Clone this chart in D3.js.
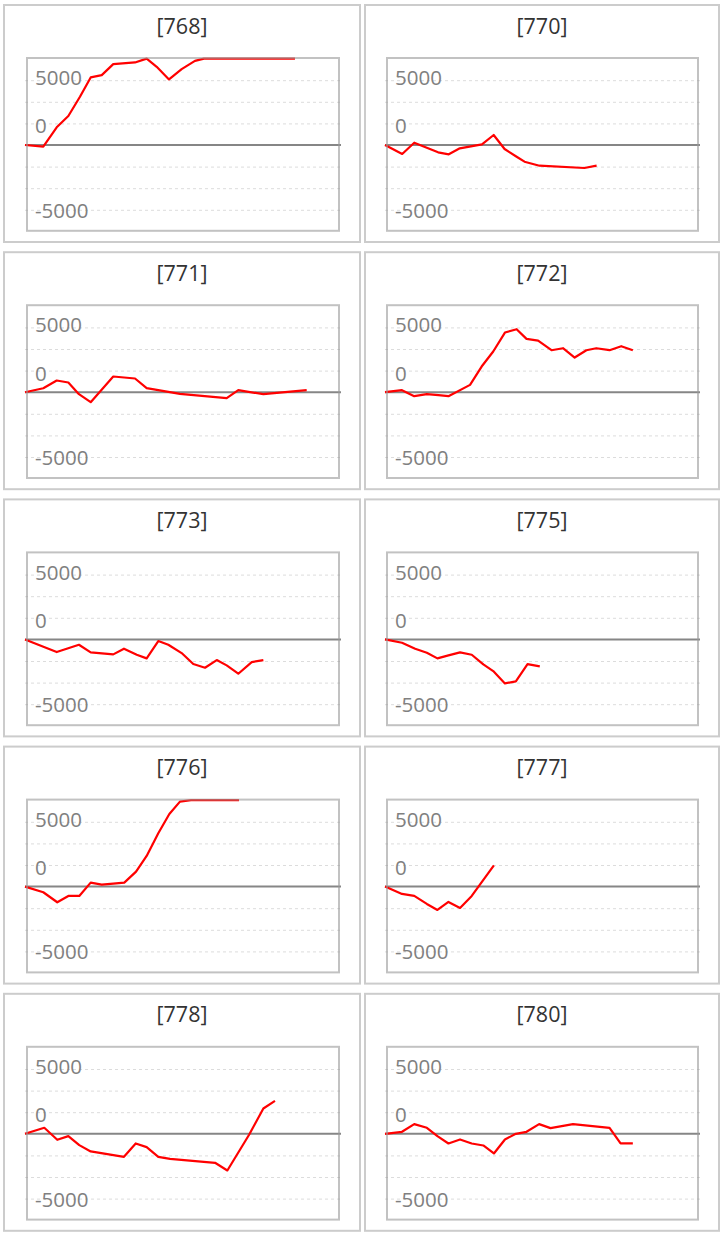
<!DOCTYPE html>
<html>
<head>
<meta charset="utf-8">
<script src="https://cdn.jsdelivr.net/npm/d3@7"></script>
<style>
  html, body { margin: 0; padding: 0; background: #fff; }
  svg { display: block; }
</style>
</head>
<body>
<div id="chart"></div>
<script>
// ---------------- data ----------------
const titles = ["[768]", "[770]", "[771]", "[772]", "[773]", "[775]", "[776]", "[777]", "[778]", "[780]"];

// x = trading-day position, y = cumulative value
const days768 = [0, 1.62, 2.81, 3.84, 4.87, 5.82, 6.80, 7.82, 9.75, 10.78, 11.67, 12.76, 13.88, 15.06, 15.86, 16.84, 17.81, 18.78, 19.85, 20.82, 21.80, 22.86, 23.92];
const vals768 = [0, -197, 2048, 3356, 5590, 7822, 8088, 9360, 9557, 10020, 9051, 7592, 8784, 9744, 10100, 10800, 11500, 11200, 12000, 12600, 12300, 13000, 12800];

const days770 = [0, 1.53, 2.60, 4.72, 5.67, 6.65, 8.62, 9.66, 10.63, 11.70, 12.40, 13.73, 17.72, 18.81];
const vals770 = [0, -1041, 266, -845, -1076, -382, 81, 1157, -463, -1354, -1932, -2395, -2661, -2395];

const days771 = [0, 1.62, 2.81, 3.84, 4.78, 5.82, 7.82, 9.75, 10.78, 13.73, 17.87, 18.90, 21.12, 24.96];
const vals771 = [0, 463, 1354, 1123, -231, -1157, 1817, 1586, 463, -185, -694, 231, -231, 231];

const days772 = [0, 1.51, 2.60, 3.72, 4.75, 5.64, 7.56, 8.59, 9.62, 10.66, 11.70, 12.58, 13.61, 14.80, 15.82, 16.86, 17.90, 18.78, 19.96, 21.00, 22.03];
const vals772 = [0, 231, -463, -231, -347, -463, 849, 2970, 4706, 6904, 7290, 6172, 5979, 4860, 5091, 4011, 4860, 5091, 4860, 5322, 4860];

const days773 = [0, 2.81, 4.78, 5.82, 7.82, 8.77, 9.90, 10.78, 11.81, 12.70, 13.88, 14.91, 15.95, 16.99, 17.87, 18.90, 20.09, 21.12];
const vals773 = [0, -1466, -617, -1504, -1736, -1080, -1774, -2198, -193, -617, -1581, -2854, -3279, -2391, -3009, -3973, -2623, -2391];

const days775 = [0, 1.51, 2.68, 3.72, 4.66, 5.64, 6.67, 7.71, 8.74, 9.62, 10.66, 11.63, 12.67, 13.76];
const vals775 = [0, -386, -1080, -1543, -2198, -1851, -1504, -1774, -2893, -3664, -5091, -4860, -2854, -3124];

const days776 = [0, 1.62, 2.86, 3.84, 4.81, 5.82, 6.80, 7.82, 8.80, 9.84, 10.78, 11.81, 12.79, 13.73, 14.71, 15.77, 16.84, 17.90, 18.96];
const vals776 = [0, -656, -1813, -1080, -1080, 463, 231, 347, 463, 1736, 3549, 6172, 8409, 9835, 10900, 11600, 12200, 12500, 12900];

const days777 = [0, 1.51, 2.60, 3.72, 4.66, 5.64, 6.67, 7.71, 9.68];
const vals777 = [0, -849, -1080, -2006, -2700, -1774, -2468, -1080, 2468];

const days778 = [0, 1.71, 2.86, 3.84, 4.81, 5.82, 8.77, 9.81, 10.78, 11.81, 12.85, 16.84, 17.93, 19.87, 21.12, 22.15];
const vals778 = [0, 694, -694, -270, -1311, -2044, -2661, -1118, -1543, -2661, -2893, -3356, -4243, -77, 2931, 3819];

const days780 = [0, 1.51, 2.60, 3.72, 4.66, 5.64, 6.67, 7.71, 8.74, 9.68, 10.66, 11.63, 12.58, 13.70, 14.71, 16.71, 19.96, 20.94, 22.03];
const vals780 = [0, 231, 1118, 694, -270, -1118, -656, -1118, -1350, -2276, -656, 0, 231, 1118, 656, 1118, 694, -1118, -1118];

const yTickLabels = ["5000", "0", "-5000"];
const gridValues = [7500, 5000, 2500, -2500, -5000, -7500];
const xDomain = [0, 28];
const yDomain = [-10000, 10000];

const seriesDays = [days768, days770, days771, days772, days773, days775, days776, days777, days778, days780];
const seriesVals = [vals768, vals770, vals771, vals772, vals773, vals775, vals776, vals777, vals778, vals780];

// ---------------- layout ----------------
const W = 724, H = 1238;
const colX = [3, 364], colW = [358, 356];
const plotL = [24, 23], plotR = [336, 334];
const rowPitch = 247.2, panelH = 239, rowTop0 = 4;
const zeroY = 141, halfH = 86.4;
const labelAnchors = [7500, 2500, -7500];   // where each label sits
const labelDy = [5, 10, 8];

const svg = d3.select("#chart").append("svg")
  .attr("width", W).attr("height", H)
  .style("font-family", "'Open Sans', 'Noto Sans', sans-serif");

svg.append("rect").attr("width", W).attr("height", H).attr("fill", "#fff");

titles.forEach((t, i) => {
  const col = i % 2, row = Math.floor(i / 2);
  const pw = colW[col];
  const pl = plotL[col], pr = plotR[col];
  const g = svg.append("g")
    .attr("transform", `translate(${colX[col]},${rowTop0 + row * rowPitch})`);

  // panel border
  g.append("rect")
    .attr("x", 1).attr("y", 1)
    .attr("width", pw - 2).attr("height", panelH - 2)
    .attr("fill", "#fff").attr("stroke", "#cccccc").attr("stroke-width", 2);

  // title
  g.append("text")
    .attr("x", pw / 2).attr("y", 29.5)
    .attr("text-anchor", "middle")
    .attr("font-size", 21.5).attr("fill", "#333")
    .text(t);

  const x = d3.scaleLinear().domain(xDomain).range([pl - 2, pr + 2]);
  const y = d3.scaleLinear().domain(yDomain).range([zeroY + halfH, zeroY - halfH]).clamp(true);

  // gridlines
  const grid = g.append("g")
    .attr("transform", `translate(${pl - 2},0)`)
    .call(d3.axisLeft(y).tickValues(gridValues).tickSize(-(pr - pl + 4)).tickFormat(""));
  grid.select(".domain").remove();
  grid.selectAll(".tick line")
    .attr("stroke", "#dcdcdc").attr("stroke-width", 1).attr("stroke-dasharray", "3,3");

  // zero line
  g.append("line")
    .attr("x1", x.range()[0]).attr("x2", x.range()[1])
    .attr("y1", y(0)).attr("y2", y(0))
    .attr("stroke", "#868686").attr("stroke-width", 2);

  // tick labels
  yTickLabels.forEach((lab, k) => {
    g.append("text")
      .attr("x", pl + 8).attr("y", y(labelAnchors[k]) + labelDy[k])
      .attr("font-size", 20.5).attr("fill", "#808080")
      .text(lab);
  });

  // data line
  const pts = seriesDays[i].map((d, k) => [d, seriesVals[i][k]]);
  g.append("path")
    .datum(pts)
    .attr("fill", "none").attr("stroke", "#ff0000").attr("stroke-width", 2.2)
    .attr("stroke-linejoin", "round")
    .attr("d", d3.line().x(d => x(d[0])).y(d => y(d[1])));

  // plot border
  g.append("rect")
    .attr("x", pl).attr("y", y(yDomain[1]) - 0.6)
    .attr("width", pr - pl).attr("height", y(yDomain[0]) - y(yDomain[1]))
    .attr("fill", "none").attr("stroke", "#999").attr("stroke-opacity", 0.6).attr("stroke-width", 2);
});
</script>
</body>
</html>
